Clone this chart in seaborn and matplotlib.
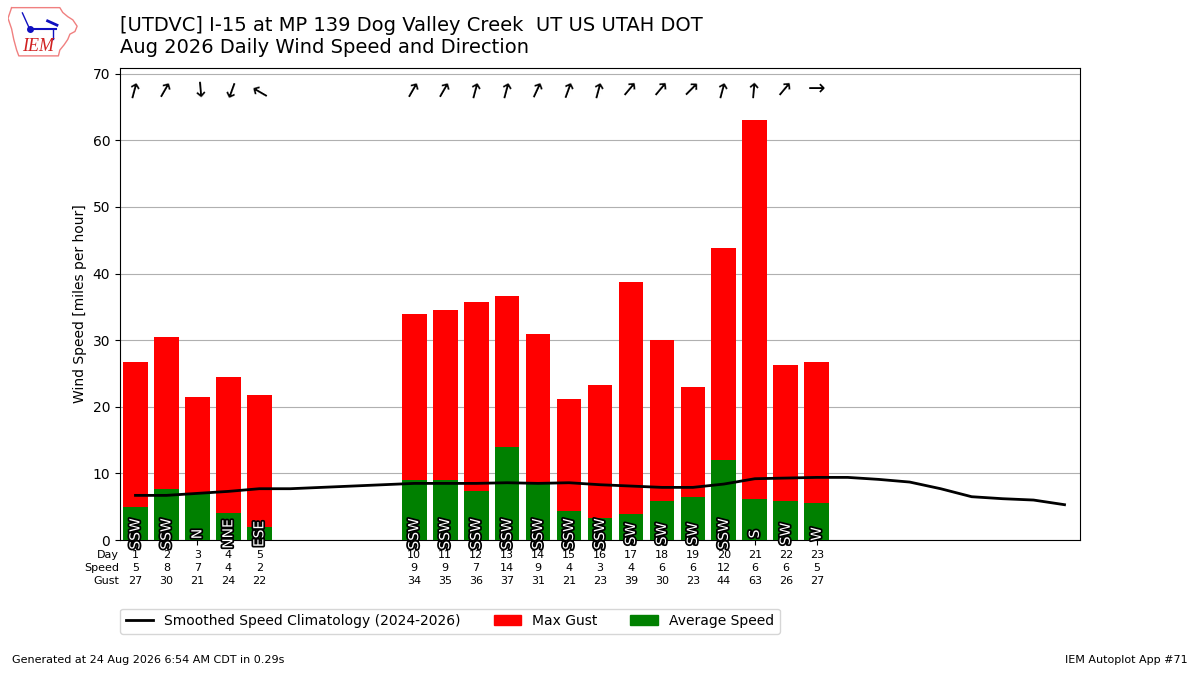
import matplotlib
matplotlib.use('Agg')
import matplotlib.pyplot as plt
import matplotlib.patheffects as PathEffects
from matplotlib.patches import Patch
from matplotlib.lines import Line2D
import seaborn as sns
import pandas as pd
import numpy as np

# --- DATA ---
DAYS = [1, 2, 3, 4, 5, 10, 11, 12, 13, 14, 15, 16, 17, 18, 19, 20, 21, 22, 23]
AVG_SPEED = [4.9, 7.6, 7.0, 4.1, 1.9, 9.0, 9.0, 7.4, 13.9, 8.7, 4.3, 3.3,
             3.9, 5.8, 6.4, 12.0, 6.2, 5.8, 5.5]
MAX_GUST = [26.8, 30.5, 21.5, 24.4, 21.7, 33.9, 34.6, 35.8, 36.7, 31.0, 21.1,
            23.3, 38.7, 30.0, 22.9, 43.9, 63.0, 26.3, 26.8]
SPEED_LABELS = [5, 8, 7, 4, 2, 9, 9, 7, 14, 9, 4, 3, 4, 6, 6, 12, 6, 6, 5]
GUST_LABELS = [27, 30, 21, 24, 22, 34, 35, 36, 37, 31, 21, 23, 39, 30, 23,
               44, 63, 26, 27]
AVG_DRCT = [195, 210, 355, 20, 120, 210, 210, 195, 195, 205, 200, 195,
            220, 220, 225, 195, 185, 220, 270]
DRCT_TEXT = ["SSW", "SSW", "N", "NNE", "ESE", "SSW", "SSW", "SSW", "SSW",
             "SSW", "SSW", "SSW", "SW", "SW", "SW", "SSW", "S", "SW", "W"]

CLIMO_DAYS = list(range(1, 32))
CLIMO_SPEED = [6.7, 6.7, 7.0, 7.3, 7.7, 7.7, 7.9, 8.1, 8.3, 8.5, 8.5, 8.5,
               8.6, 8.5, 8.6, 8.3, 8.1, 7.9, 7.9, 8.4, 9.2, 9.3, 9.4, 9.4,
               9.1, 8.7, 7.7, 6.5, 6.2, 6.0, 5.3]

TITLE = ("[UTDVC] I-15 at MP 139 Dog Valley Creek  UT US UTAH DOT\n"
         "Aug 2026 Daily Wind Speed and Direction")

df = pd.DataFrame({"day": DAYS, "avg": AVG_SPEED, "gust": MAX_GUST,
                   "drct": AVG_DRCT, "txt": DRCT_TEXT})
climo = pd.DataFrame({"day": CLIMO_DAYS, "speed": CLIMO_SPEED})

fig = plt.figure(figsize=(12, 6.75), dpi=100)
ax = fig.add_axes([0.1, 0.2, 0.8, 0.6993])

# bars: gust underneath, average speed on top
sns.barplot(data=df, x="day", y="gust", native_scale=True, color="red",
            saturation=1, width=0.8, ax=ax, zorder=2)
sns.barplot(data=df, x="day", y="avg", native_scale=True, color="green",
            saturation=1, width=0.8, ax=ax, zorder=3)
sns.lineplot(data=climo, x="day", y="speed", color="k", lw=2, ax=ax, zorder=4)

ymax = max(MAX_GUST) * 1.125
for _, row in df.iterrows():
    # arrow points where the wind blows to
    ax.text(row["day"], ymax * 0.955, "\u2192", rotation=-90 - row["drct"],
            rotation_mode="anchor", ha="center", va="center", fontsize=15,
            zorder=5)
    t = ax.text(row["day"], 0.9, row["txt"], rotation=90, ha="center",
                va="center", color="white", fontsize=10, zorder=6)
    t.set_path_effects([PathEffects.withStroke(linewidth=2.5, foreground="k")])

ax.set_xlim(0.5, 31.5)
ax.set_ylim(0, ymax)
ax.set_xticks(DAYS)
ax.set_xticklabels([f"{d}\n{s}\n{g}"
                    for d, s, g in zip(DAYS, SPEED_LABELS, GUST_LABELS)],
                   fontsize=8)
for lbl in ax.get_xticklabels():
    lbl.set_linespacing(1.42)
ax.text(-0.001, -0.0206, "Day\nSpeed\nGust", transform=ax.transAxes,
        ha="right", va="top", fontsize=8, multialignment="right",
        linespacing=1.42)
ax.set_xlabel("")
ax.set_ylabel("Wind Speed [miles per hour]")
ax.grid(axis="y", zorder=0)
ax.set_axisbelow(True)

handles = [Line2D([0], [0], color="k", lw=2),
           Patch(color="red"), Patch(color="green")]
labels = ["Smoothed Speed Climatology (2024-2026)", "Max Gust", "Average Speed"]
fig.legend(handles, labels, ncol=3, loc="upper left",
           bbox_to_anchor=(0.1, 0.0985), fontsize=10, borderaxespad=0,
           columnspacing=2.35)

fig.text(0.1, 0.977, TITLE, ha="left", va="top", fontsize=14)

# rough IEM logo
lax = fig.add_axes([8 / 1200, 1 - 58 / 675, 72 / 1200, 53 / 675])
lax.axis("off")
lax.set_xlim(0, 1)
lax.set_ylim(0, 1)
ox = [0.05, 0.72, 0.76, 0.83, 0.9, 0.96, 0.93, 0.86, 0.83, 0.78, 0.72, 0.7,
      0.15, 0.12, 0.08, 0.05, 0.0, 0.05]
oy = [0.95, 0.95, 0.86, 0.78, 0.72, 0.6, 0.5, 0.45, 0.35, 0.25, 0.15, 0.04,
      0.04, 0.15, 0.35, 0.55, 0.75, 0.95]
lax.plot(ox, oy, color="#f08080", lw=1)
lax.plot([0.3, 0.66], [0.55, 0.55], color="#1010c0", lw=1.5)
lax.plot([0.3], [0.55], "o", color="#1010c0", ms=4)
lax.plot([0.2, 0.25, 0.3], [0.85, 0.7, 0.55], color="#1010c0", lw=1)
lax.plot([0.55, 0.68], [0.7, 0.62], color="#1010c0", lw=2)
lax.plot([0.62, 0.62], [0.55, 0.35], color="#1010c0", lw=1)
lax.text(0.42, 0.22, "IEM", color="#d02020", fontsize=13, style="italic",
         family="Liberation Serif", ha="center", va="center")

fig.text(0.01, 0.015, "Generated at 24 Aug 2026 6:54 AM CDT in 0.29s",
         fontsize=8, ha="left", va="bottom")
fig.text(0.99, 0.015, "IEM Autoplot App #71", fontsize=8, ha="right",
         va="bottom")

fig.savefig("out.png", dpi=100)
